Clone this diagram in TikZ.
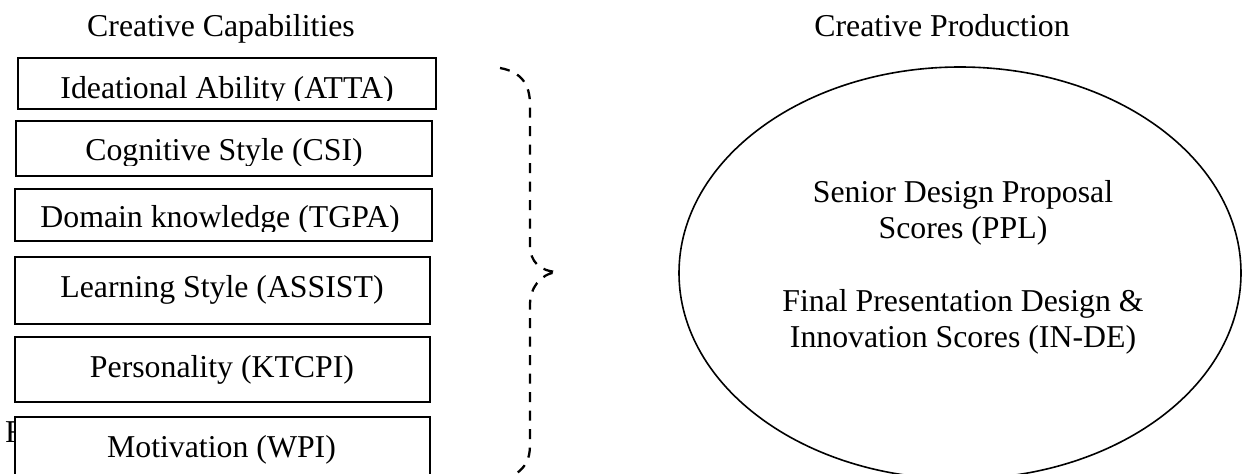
\documentclass[tikz,border=0pt]{standalone}
\usepackage{fontspec}
\setmainfont{Liberation Serif}
\usetikzlibrary{shapes.geometric}
\begin{document}
\begin{tikzpicture}[x=1pt,y=-1pt,
  lbl/.style={inner sep=0pt, font=\fontsize{31.8pt}{36pt}\selectfont},
  cbox/.style={draw=black, fill=white, line width=2.2pt, inner sep=0pt},
  ell/.style={ellipse, draw=black, line width=1.6pt, inner sep=0pt},
  bracepath/.style={draw=black, line width=2.3pt, dash pattern=on 10pt off 8.5pt}
]
\useasboundingbox (0,0) rectangle (1243,474);
\fill[white] (0,0) rectangle (1243,474);

% titles
\node[lbl, anchor=base] (cc) at (221,36) {Creative Capabilities};
\node[lbl, anchor=base] (cp) at (942,36) {Creative Production};

% stray letter partly hidden behind the last box
\node[lbl, anchor=base west] (stray) at (5,442) {F};

% capability boxes
\node[cbox, minimum width=418pt, minimum height=51pt] (b1) at (227,83.5) {};
\node[cbox, minimum width=416pt, minimum height=55pt] (b2) at (224,148.5) {};
\node[cbox, minimum width=417pt, minimum height=52pt] (b3) at (223.5,215) {};
\node[cbox, minimum width=415pt, minimum height=67pt] (b4) at (222.5,290.5) {};
\node[cbox, minimum width=415pt, minimum height=65pt] (b5) at (222.5,369.5) {};
\node[cbox, minimum width=415pt, minimum height=83pt] (b6) at (222.5,458.5) {};

\begin{scope}
  \clip (18,58) rectangle (436,100);
  \node[lbl, anchor=base] (t1) at (227,98) {Ideational Ability (ATTA)};
\end{scope}
\begin{scope}
  \clip (16,121) rectangle (432,165);
  \node[lbl, anchor=base] (t2) at (224,160) {Cognitive Style (CSI)};
\end{scope}
\begin{scope}
  \clip (15,189) rectangle (432,231);
  \node[lbl, anchor=base] (t3) at (220,227) {Domain knowledge (TGPA)};
\end{scope}
\node[lbl, anchor=base] (t4) at (222,297) {Learning Style (ASSIST)};
\node[lbl, anchor=base] (t5) at (222,377) {Personality (KTCPI)};
\node[lbl, anchor=base] (t6) at (221.5,457) {Motivation (WPI)};

% dashed brace
\coordinate (bt) at (500,68);
\coordinate (tip) at (557,272);
\coordinate (bb) at (513,476);
\path[bracepath] (bt) .. controls (522,72) and (530,85) .. (530,105)
  -- (530,245) .. controls (530,262) and (540,271) .. (tip)
  .. controls (540,274) and (530,288) .. (530,305)
  -- (530,445) .. controls (530,460) and (525,468) .. (bb);

% production ellipse
\node[ell, minimum width=562pt, minimum height=412pt] (E) at (960,273) {};
\node[lbl, anchor=base] (s1) at (963,202) {Senior Design Proposal};
\node[lbl, anchor=base] (s2) at (963,238) {Scores (PPL)};
\node[lbl, anchor=base] (s3) at (963,311) {Final Presentation Design \&};
\node[lbl, anchor=base] (s4) at (963,347) {Innovation Scores (IN-DE)};
\end{tikzpicture}
\end{document}
